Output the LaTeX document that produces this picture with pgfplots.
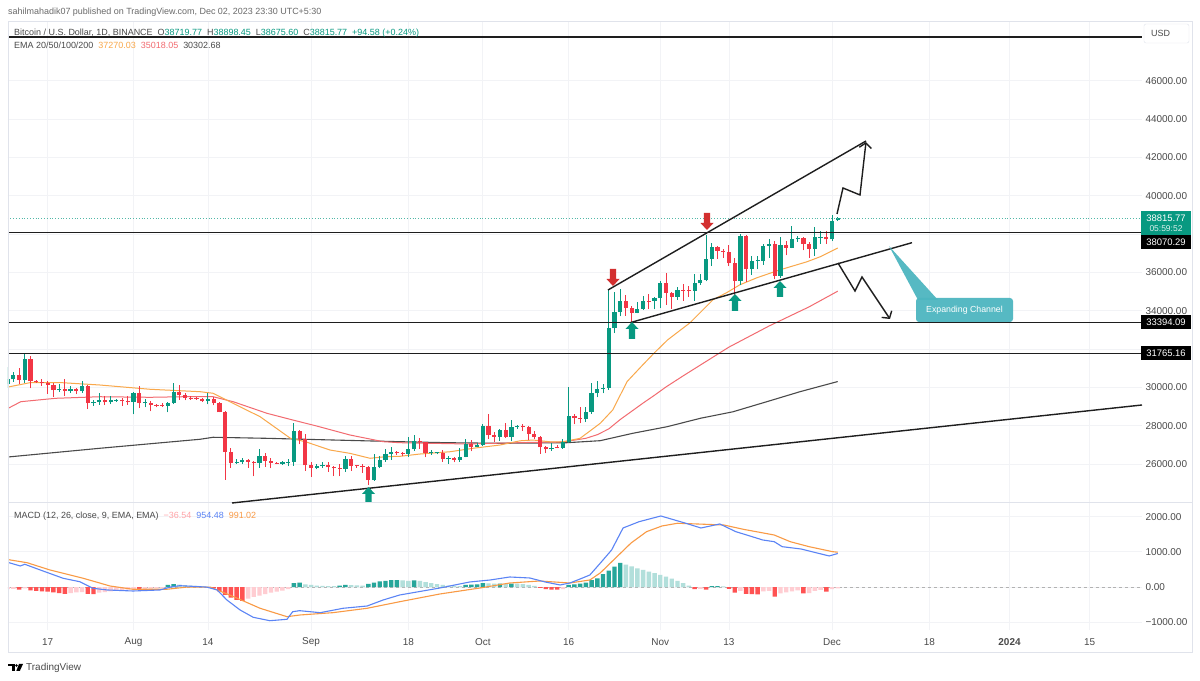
\documentclass[border=0pt]{standalone}
\usepackage{pgfplots}
\pgfplotsset{compat=1.18}
\usepackage{pgfplotstable}
\usepackage{fontspec}
\setmainfont{Liberation Sans}
\usetikzlibrary{arrows.meta}
\definecolor{upc}{HTML}{089981}
\definecolor{dnc}{HTML}{F23645}
\definecolor{emaA}{HTML}{F9A84B}
\definecolor{emaB}{HTML}{F26B70}
\definecolor{emaC}{HTML}{4A4A4A}
\definecolor{macdc}{HTML}{5B84F5}
\definecolor{sigc}{HTML}{F99A45}
\definecolor{hA}{HTML}{26A69A}
\definecolor{hB}{HTML}{B2DFDB}
\definecolor{hC}{HTML}{FFCDD2}
\definecolor{hD}{HTML}{FF5252}
\definecolor{gridc}{HTML}{F2F3F6}
\definecolor{framec}{HTML}{E0E3EB}
\definecolor{txt}{HTML}{4A4A4A}
\definecolor{hdr}{HTML}{6A6A6A}
\definecolor{callout}{HTML}{4DB6C0}
\definecolor{redarrow}{HTML}{D32F2F}
\definecolor{lnc}{HTML}{1E1E1E}

% candles: k = 1 up, 0 down
\pgfplotstableread{
d o h l c k
-7 30160 31045 29950 30411 1
-6 30411 30800 30300 30620 1
-5 30620 30990 30200 30380 0
-4 30380 31814 30250 31454 1
-3 31454 31640 29940 30320 0
-2 30320 30390 30250 30290 0
-1 30290 30440 30080 30230 0
0 30230 30340 29660 30140 0
1 30140 30240 29500 29860 0
2 29860 30190 29760 29910 1
3 29910 30420 29560 29800 0
4 29800 30050 29720 29910 1
5 29910 29990 29640 29800 0
6 29800 30350 29730 30080 1
7 30080 30100 28860 29180 0
8 29180 29340 29050 29230 1
9 29230 29690 29100 29350 1
10 29350 29570 29070 29220 0
11 29220 29530 29120 29320 1
12 29320 29410 29260 29360 1
13 29360 29450 29030 29280 0
14 29280 29530 29100 29230 0
15 29230 29740 28590 29710 1
16 29710 30050 28920 29180 0
17 29180 29410 28960 29180 1
18 29180 29310 28750 29090 0
19 29090 29110 28960 29050 0
20 29050 29170 28970 29040 0
21 29040 29250 28700 29180 1
22 29180 30240 29120 29770 1
23 29770 30140 29360 29580 0
24 29580 29730 29320 29450 0
25 29450 29540 29350 29420 0
26 29420 29470 29360 29400 0
27 29400 29450 29250 29280 0
28 29280 29690 29110 29410 1
29 29410 29470 29060 29170 0
30 29170 29220 28700 28700 0
31 28700 28780 25170 26620 0
32 26620 26830 25800 26050 0
33 26050 26260 25990 26100 1
34 26100 26290 26020 26190 1
35 26190 26260 25810 26120 0
36 26120 26140 25350 26040 0
37 26040 26790 25800 26430 1
38 26430 26560 25860 26160 0
39 26160 26310 25770 26060 0
40 26060 26100 25980 26000 0
41 26000 26170 25960 26090 1
42 26090 26240 25880 26100 1
43 26100 28140 25920 27720 1
44 27720 27760 27030 27300 0
45 27300 27570 25660 25930 0
46 25930 26130 25330 25800 0
47 25800 25980 25720 25870 1
48 25870 26120 25810 25970 1
49 25970 26100 25600 25820 0
50 25820 25880 25370 25790 0
51 25790 26000 25350 25750 0
52 25750 26440 25600 26240 1
53 26240 26420 25640 25910 0
54 25910 25940 25800 25900 0
55 25900 26010 25550 25840 0
56 25840 25880 24900 25160 0
57 25160 26540 25130 25840 1
58 25840 26400 25770 26230 1
59 26230 26780 26120 26530 1
60 26530 26890 26220 26610 1
61 26610 26670 26470 26570 0
62 26570 26620 26400 26530 0
63 26530 27410 26390 26760 1
64 26760 27490 26670 27210 1
65 27210 27380 26800 27130 0
66 27130 27160 26350 26570 0
67 26570 26740 26480 26580 1
68 26580 26640 26500 26580 1
69 26580 26730 26130 26260 0
70 26260 26430 26000 26300 1
71 26300 26390 26090 26220 0
72 26220 26830 26110 26370 1
73 26370 27310 26340 27030 1
74 27030 27230 26660 26910 0
75 26910 27090 26890 26970 1
76 26970 28070 26950 27990 1
77 27990 28590 27330 27500 0
78 27500 27680 27160 27430 0
79 27430 27830 27220 27790 1
80 27790 28130 27370 27410 0
81 27410 28290 27180 27930 1
82 27930 28020 27850 27960 1
83 27960 28100 27730 27930 0
84 27930 27990 27260 27590 0
85 27590 27740 27300 27390 0
86 27390 27480 26540 26870 0
87 26870 26940 26560 26760 0
88 26760 27100 26690 26860 1
89 26860 26990 26810 26850 0
90 26850 27290 26800 27160 1
91 27160 30000 27110 28500 1
92 28500 28610 28070 28410 0
93 28410 28980 28120 28330 0
94 28330 28950 28180 28720 1
95 28720 30230 28610 29680 1
96 29680 30350 29470 29910 1
97 29910 30200 29680 29990 1
98 29990 35150 29870 33070 1
99 33070 35000 32830 33920 1
100 33920 35130 33700 34500 1
101 34500 34830 33730 34150 0
102 34150 34240 33380 33900 0
103 33900 34470 33860 34090 1
104 34090 34750 34040 34530 1
105 34530 34850 34080 34500 0
106 34500 34720 34070 34650 1
107 34650 35570 34120 35420 1
108 35420 35980 34300 34940 0
109 34940 34950 34100 34730 0
110 34730 35260 34580 35080 1
111 35080 35380 34530 35050 0
112 35050 35280 34730 35040 0
113 35040 35890 34520 35420 1
114 35420 35900 35360 35620 1
115 35620 37970 35530 36700 1
116 36700 37530 36330 37310 1
117 37310 37400 36710 37130 0
118 37130 37230 36760 37060 0
119 37060 37420 36330 36480 0
120 36480 36750 34800 35550 0
121 35550 37980 35360 37880 1
122 37880 37930 35500 36160 0
123 36160 36850 35870 36590 1
124 36590 36850 36160 36590 1
125 36590 37500 36400 37380 1
126 37380 37750 36760 37470 1
127 37470 37650 35630 35810 0
128 35810 37850 35730 37420 1
129 37420 37640 36880 37290 0
130 37290 38420 37250 37720 1
131 37720 37890 37600 37800 1
132 37800 37830 37150 37480 0
133 37480 37590 36750 37240 0
134 37240 38380 36870 37830 1
135 37830 38150 37500 37850 1
136 37850 38150 37500 37720 0
137 37720 38970 37630 38690 1
138 38719.77 38898.45 38675.60 38815.77 1
}\candles

% MACD histogram: k = 1 dark green, 2 light green, 3 light red, 4 red
\pgfplotstableread{
d v k
-7 -60 3
-6 -50 3
-5 -70 4
-4 -40 3
-3 -90 4
-2 -110 4
-1 -120 4
0 -130 4
1 -150 4
2 -170 4
3 -190 4
4 -170 3
5 -150 3
6 -140 3
7 -190 4
8 -200 4
9 -160 3
10 -140 3
11 -120 3
12 -100 3
13 -90 3
14 -70 3
15 -50 3
16 -60 4
17 -50 3
18 -45 3
19 -35 3
20 -20 3
21 60 1
22 85 1
23 70 2
24 55 2
25 45 2
26 35 2
27 20 2
28 5 2
29 -40 4
30 -120 4
31 -220 4
32 -300 4
33 -360 4
34 -390 4
35 -330 3
36 -280 3
37 -240 3
38 -200 3
39 -160 3
40 -130 3
41 -100 3
42 -60 3
43 110 1
44 125 1
45 80 2
46 60 2
47 45 2
48 35 2
49 30 2
50 25 2
51 45 1
52 60 1
53 55 2
54 50 2
55 40 2
56 90 1
57 130 1
58 160 1
59 180 1
60 195 1
61 200 1
62 190 2
63 180 2
64 190 1
65 175 2
66 140 2
67 110 2
68 85 2
69 60 2
70 45 2
71 35 2
72 30 2
73 60 1
74 70 1
75 75 1
76 110 1
77 105 2
78 95 2
79 100 1
80 85 2
81 95 1
82 95 2
83 85 2
84 60 2
85 35 2
86 -20 4
87 -60 4
88 -70 4
89 -75 4
90 -55 3
91 60 1
92 80 1
93 100 1
94 130 1
95 200 1
96 250 1
97 370 1
98 470 1
99 580 1
100 690 1
101 640 2
102 590 2
103 530 2
104 490 2
105 440 2
106 400 2
107 350 2
108 300 2
109 240 2
110 180 2
111 110 2
112 40 2
113 -60 4
114 -50 3
115 -70 4
116 25 1
117 30 1
118 20 2
119 -50 4
120 -160 4
121 -110 3
122 -190 4
123 -200 4
124 -210 4
125 -120 3
126 -110 3
127 -270 4
128 -180 3
129 -150 3
130 -120 3
131 -90 3
132 -180 4
133 -170 3
134 -110 3
135 -80 3
136 -130 4
137 -60 3
138 -36.54 3
}\hist

\newcommand{\uparr}[3]{\fill[upc] (#1-6.5,#2+7) -- (#1,#2) -- (#1+6.5,#2+7) -- (#1+3.2,#2+7) -- (#1+3.2,#3) -- (#1-3.2,#3) -- (#1-3.2,#2+7) -- cycle;}
\newcommand{\dnarr}[3]{\fill[redarrow] (#1-3.2,#2) -- (#1+3.2,#2) -- (#1+3.2,#3-7) -- (#1+6.5,#3-7) -- (#1,#3) -- (#1-6.5,#3-7) -- (#1-3.2,#3-7) -- cycle;}

\begin{document}
\begin{tikzpicture}
\useasboundingbox (0,0) rectangle (1200bp,681bp);
\fill[white] (0,0) rectangle (1200bp,681bp);

% ---------------- price pane ----------------
\begin{axis}[
  at={(8bp,178bp)}, anchor=south west,
  scale only axis, width=1134bp, height=481bp,
  xmin=-6.934, xmax=191.14, ymin=23965, ymax=49063,
  axis line style={draw=none},
  xtick={0,15,28,46,63,76,91,107,119,137,154,168,182}, xticklabels={},
  ytick={26000,28000,...,46000},
  yticklabels={26000.00,28000.00,30000.00,,34000.00,36000.00,,40000.00,42000.00,44000.00,46000.00},
  yticklabel pos=right,
  scaled y ticks=false,
  tick style={draw=none},
  grid=major, major grid style={draw=gridc, line width=0.8bp},
  yticklabel style={anchor=west, font=\fontsize{10}{12}\selectfont, text=txt},
]
% EMA lines
\addplot[emaC, line width=1.1bp, mark=none] coordinates {
(-6.9,26366) (9.1,26820) (26.6,27290) (28.9,27394) (38.3,27340) (49.8,27252) (61.5,27164) (69.8,27111) (79,27080) (90.7,27111) (96.5,27216) (102.2,27602) (108.2,27946) (114,28385) (119.7,28725) (125.6,29250) (131.4,29772) (138,30302.68)};
\addplot[emaB, line width=1bp, mark=none] coordinates {
(-6.9,28907) (-4.7,29251) (1.4,29428) (9.1,29510) (17.9,29480) (23.6,29510) (28.9,29510) (32.4,29250) (38.3,28645) (42.8,28296) (47,27980) (52.8,27513) (58.6,27164) (61.5,27111) (73.2,27044) (84.8,27130) (90,27150) (94,27340) (96,27530) (98,27830) (100,28320) (102,28750) (104,29180) (106,29590) (108,30020) (111,30600) (115,31350) (119,32100) (126,33200) (133,34200) (138,35018.05)};
\addplot[emaA, line width=1bp, mark=none] coordinates {
(-6.9,30018) (-3.1,30242) (2.1,30250) (9.1,30122) (17.9,29898) (26.6,29773) (28.9,29690) (31.8,29251) (37.1,28468) (42.4,27340) (45,27164) (49.3,26730) (52.8,26556) (56.3,26298) (59,26380) (61.5,26400) (65,26520) (70.3,26640) (74.3,26820) (79,26990) (82.5,27210) (84.8,27250) (87.7,27160) (90,27160) (93,27340) (96.5,28120) (98.7,28820) (101.2,30300) (104,31190) (106,31810) (108.3,32480) (112.2,33370) (116.2,34570) (118.6,34940) (120.9,35350) (123.9,35720) (127.9,36130) (132.6,36550) (134.9,36810) (138,37270.03)};
% candle wicks
\addplot[upc, line width=1bp, mark=none, forget plot,
  restrict expr to domain={\thisrow{k}}{1:1},
  quiver={u=0, v=\thisrow{h}-\thisrow{l}}]
  table[x=d, y=l] {\candles};
\addplot[dnc, line width=1bp, mark=none, forget plot,
  restrict expr to domain={\thisrow{k}}{0:0},
  quiver={u=0, v=\thisrow{h}-\thisrow{l}}]
  table[x=d, y=l] {\candles};
% candle bodies
\addplot[upc, line width=4.2bp, line cap=butt, mark=none, forget plot,
  restrict expr to domain={\thisrow{k}}{1:1},
  quiver={u=0, v={max(abs(\thisrow{c}-\thisrow{o}),30)}}]
  table[x=d, y expr={min(\thisrow{o},\thisrow{c})}] {\candles};
\addplot[dnc, line width=4.2bp, line cap=butt, mark=none, forget plot,
  restrict expr to domain={\thisrow{k}}{0:0},
  quiver={u=0, v={max(abs(\thisrow{c}-\thisrow{o}),30)}}]
  table[x=d, y expr={min(\thisrow{o},\thisrow{c})}] {\candles};
% levels
\draw[upc!70, dotted, line width=0.8bp] (axis cs:-7,38815.77) -- (axis cs:192,38815.77);
\draw[lnc, line width=1.6bp] (axis cs:-7,48280) -- (axis cs:192,48280);
\draw[lnc, line width=1.5bp] (axis cs:-7,38070.29) -- (axis cs:192,38070.29);
\draw[lnc, line width=1.5bp] (axis cs:-7,33394.09) -- (axis cs:192,33394.09);
\draw[lnc, line width=1.5bp] (axis cs:-7,31765.16) -- (axis cs:192,31765.16);
\end{axis}

% ---------------- MACD pane ----------------
\begin{axis}[
  at={(8bp,51bp)}, anchor=south west,
  scale only axis, width=1134bp, height=127bp,
  xmin=-6.934, xmax=191.14, ymin=-1219, ymax=2389,
  axis line style={draw=none},
  xtick={0,15,28,46,63,76,91,107,119,137,154,168,182},
  xticklabels={17,Aug,14,Sep,18,Oct,16,Nov,13,Dec,18,\textbf{2024},15},
  xticklabel style={anchor=center, yshift=-12bp, font=\fontsize{10}{12}\selectfont, text=txt},
  ytick={-1000,0,1000,2000},
  yticklabels={−1000.00,0.00,1000.00,2000.00},
  yticklabel pos=right,
  scaled y ticks=false,
  tick style={draw=none},
  grid=major, major grid style={draw=gridc, line width=0.8bp},
  yticklabel style={anchor=west, font=\fontsize{10}{12}\selectfont, text=txt},
]
\draw[black!30, dashed, line width=0.8bp] (axis cs:-7,0) -- (axis cs:192,0);
\addplot[ybar, bar width=4.4bp, bar shift=0pt, fill=hA, draw=none, forget plot, restrict expr to domain={\thisrow{k}}{1:1}] table[x=d,y=v] {\hist};
\addplot[ybar, bar width=4.4bp, bar shift=0pt, fill=hB, draw=none, forget plot, restrict expr to domain={\thisrow{k}}{2:2}] table[x=d,y=v] {\hist};
\addplot[ybar, bar width=4.4bp, bar shift=0pt, fill=hC, draw=none, forget plot, restrict expr to domain={\thisrow{k}}{3:3}] table[x=d,y=v] {\hist};
\addplot[ybar, bar width=4.4bp, bar shift=0pt, fill=hD, draw=none, forget plot, restrict expr to domain={\thisrow{k}}{4:4}] table[x=d,y=v] {\hist};
\addplot[sigc, line width=1.1bp, mark=none] coordinates {
(-6.9,780) (-3.6,693) (0.4,486) (6.2,250) (10.9,31) (14.9,-62) (20.8,-62) (24.3,0) (28.4,0) (32.4,-267) (37.1,-602) (41.8,-841) (44.1,-792) (49.8,-727) (55.8,-602) (61.5,-415) (68.5,-196) (75.5,-26) (80.7,116) (85.9,173) (91.2,116) (94.7,202) (96.5,400) (99.2,827) (101.9,1253) (104.6,1574) (107.3,1736) (110,1813) (113.4,1793) (118.1,1764) (121.5,1642) (126.9,1480) (129.7,1290) (133,1148) (137.1,1006) (138,991.02)};
\addplot[macdc, line width=1.1bp, mark=none] coordinates {
(-6.9,700) (-4.8,600) (-4,648) (-1.3,486) (2.7,250) (5.6,153) (7.9,-34) (10.4,-82) (14.9,-111) (19.6,-82) (21.4,0) (23.1,40) (27.8,0) (29.6,-82) (31.3,-366) (33.6,-650) (35.9,-858) (38.8,-955) (41.8,-915) (42.8,-699) (44,-670) (47.6,-727) (51.6,-602) (55.8,-537) (58.6,-366) (61.5,-224) (68.5,-26) (73.7,145) (77.3,202) (80.7,287) (84.2,259) (86.9,145) (89.5,60) (91.2,116) (93,230) (94.7,344) (96.5,676) (98.5,1054) (100.5,1679) (103.3,1858) (107.1,2020) (111.3,1821) (114.1,1679) (117.4,1793) (120.2,1574) (122.1,1480) (124.9,1338) (126.9,1290) (128.3,1148) (131.6,1082) (134.4,969) (136.5,884) (138,954.48)};
\end{axis}

% ---------------- annotations (pixel coordinates) ----------------
\begin{scope}[x=1bp, y=-1bp, shift={(0bp,681bp)}]
\draw[framec, line width=1bp] (8,22) rectangle (1192,653);
\draw[framec, line width=1bp] (8,503) -- (1192,503);
% trend lines
\draw[lnc, line width=1.4bp] (608,290) -- (866,141);
\draw[lnc, line width=1.4bp] (630,322.7) -- (912,242.7);
\draw[lnc, line width=1.4bp] (232,503) -- (1142,405);
\draw[lnc, line width=1.4bp, -{Straight Barb[length=5bp,width=12bp]}] (837,214) -- (843,188) -- (860,195) -- (866,142);
\draw[lnc, line width=1.4bp, -{Straight Barb[length=5bp,width=12bp]}] (838,263) -- (855,291) -- (862,277) -- (890,319);
% arrows
\uparr{368.5}{487}{502}
\uparr{632}{322}{339}
\uparr{735}{294}{311}
\uparr{780}{281}{297}
\dnarr{613}{269}{286}
\dnarr{707}{213}{230}
% callout
\fill[callout, opacity=0.95] (889,246) -- (918,300) -- (938,300) -- cycle;
\fill[callout, opacity=0.95, rounded corners=3bp] (916,298) rectangle (1013,322);
\node[text=white, font=\fontsize{8.8}{10}\selectfont, inner sep=0] at (964.5,310) {Expanding Channel};
% price scale boxes
\draw[framec, rounded corners=2bp, fill=white] (1144,24) rectangle (1189,43);
\node[anchor=west, font=\fontsize{9}{11}\selectfont, text=txt, inner sep=0] at (1151,33.5) {USD};
\fill[upc] (1141,211) rectangle (1191,235.5);
\node[text=white, font=\fontsize{9.5}{11}\selectfont, inner sep=0] at (1166,218.4) {38815.77};
\node[text=white!85!upc, font=\fontsize{8.5}{10}\selectfont, inner sep=0] at (1166,229) {05:59:52};
\fill[black] (1141,235.5) rectangle (1191,249);
\node[text=white, font=\fontsize{9.5}{11}\selectfont, inner sep=0] at (1166,242.3) {38070.29};
\fill[black] (1141,315.5) rectangle (1191,329);
\node[text=white, font=\fontsize{9.5}{11}\selectfont, inner sep=0] at (1166,322.3) {33394.09};
\fill[black] (1141,346.5) rectangle (1191,360);
\node[text=white, font=\fontsize{9.5}{11}\selectfont, inner sep=0] at (1166,353.3) {31765.16};
% header
\node[anchor=base west, inner sep=0, font=\fontsize{9}{11}\selectfont, text=hdr] at (8,15) {sahilmahadik07 published on TradingView.com, Dec 02, 2023 23:30 UTC+5:30};
\node[anchor=base west, inner sep=0, font=\fontsize{9}{11}\selectfont, text=txt] at (14,35.5) {Bitcoin / U.S. Dollar, 1D, BINANCE\hspace{5bp}O\textcolor{upc}{38719.77}\hspace{5bp}H\textcolor{upc}{38898.45}\hspace{5bp}L\textcolor{upc}{38675.60}\hspace{5bp}C\textcolor{upc}{38815.77}\hspace{5bp}\textcolor{upc}{+94.58 (+0.24\%)}};
\node[anchor=base west, inner sep=0, font=\fontsize{9}{11}\selectfont, text=txt] at (14,49) {EMA 20/50/100/200\hspace{5bp}\textcolor{emaA}{37270.03}\hspace{5bp}\textcolor{emaB}{35018.05}\hspace{5bp}30302.68};
\node[anchor=base west, inner sep=0, font=\fontsize{9}{11}\selectfont, text=txt] at (14,519) {MACD (12, 26, close, 9, EMA, EMA)\hspace{5bp}\textcolor{hC!80!red}{−36.54}\hspace{5bp}\textcolor{macdc}{954.48}\hspace{5bp}\textcolor{sigc}{991.02}};
% logo
\fill[black] (8,664) rectangle (14.5,666.5);
\fill[black] (11.5,664) rectangle (14.5,671);
\fill[black] (16.5,665.5) circle (1.4bp);
\fill[black] (19,664) -- (23,664) -- (19.8,671) -- (16.3,671) -- cycle;
\node[anchor=base west, inner sep=0, font=\fontsize{10}{12}\selectfont, text=txt] at (26,671) {TradingView};
\end{scope}
\end{tikzpicture}
\end{document}
